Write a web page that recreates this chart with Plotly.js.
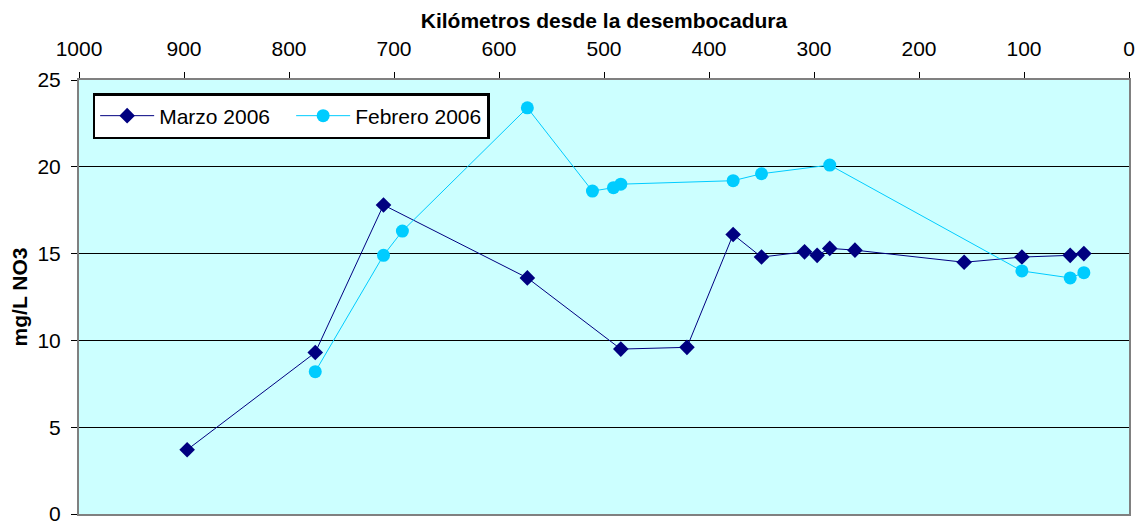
<!DOCTYPE html>
<html>
<head>
<meta charset="utf-8">
<script src="https://cdn.plot.ly/plotly-3.0.1.min.js"></script>
<style>html,body{margin:0;padding:0;background:#fff;}#chart{width:1145px;height:525px;}</style>
</head>
<body>
<div id="chart"></div>
<script>
// Marzo 2006
const marzoKm = [897, 775, 710, 573, 484, 421, 377, 350, 309, 297, 285, 261, 157, 102, 56, 43];
const marzoNO3 = [3.7, 9.3, 17.8, 13.6, 9.5, 9.6, 16.1, 14.8, 15.1, 14.9, 15.3, 15.2, 14.5, 14.8, 14.9, 15.0];
// Febrero 2006
const febreroKm = [775, 710, 692, 573, 511, 491, 484, 377, 350, 285, 102, 56, 43];
const febreroNO3 = [8.2, 14.9, 16.3, 23.4, 18.6, 18.8, 19.0, 19.2, 19.6, 20.1, 14.0, 13.6, 13.9];

const seriesNames = ["Marzo 2006", "Febrero 2006"];
const xTitle = "Kilómetros desde la desembocadura";
const yTitle = "mg/L NO3";

const font = "Liberation Sans, Arial, sans-serif";

const traces = [
  {
    x: marzoKm, y: marzoNO3, name: seriesNames[0], type: "scatter", mode: "lines+markers",
    line: {color: "#000080", width: 1},
    marker: {symbol: "diamond", size: 12, color: "#000080"}
  },
  {
    x: febreroKm, y: febreroNO3, name: seriesNames[1], type: "scatter", mode: "lines+markers",
    line: {color: "#00CCFF", width: 1},
    marker: {symbol: "circle", size: 13, color: "#00CCFF"}
  }
];

const layout = {
  width: 1145, height: 525,
  margin: {l: 79, r: 16, t: 80, b: 11},
  paper_bgcolor: "#ffffff",
  plot_bgcolor: "#CCFFFF",
  font: {family: font, size: 21, color: "#000"},
  showlegend: true,
  legend: {
    orientation: "h", x: 0.013, y: 0.97, xanchor: "left", yanchor: "top",
    bgcolor: "#ffffff", bordercolor: "#000", borderwidth: 2.5,
    itemwidth: 54, entrywidth: 127, entrywidthmode: "pixels",
    font: {family: font, size: 21}
  },
  xaxis: {
    side: "top", range: [1000, 0], dtick: 100, tick0: 0,
    ticks: "outside", ticklen: 6, tickcolor: "#000",
    showgrid: false, zeroline: false,
    showline: true, linecolor: "#808080", linewidth: 2, mirror: true,
    tickfont: {family: font, size: 21},
    ticklabelstandoff: 8, ticklabeloverflow: "allow",
    title: {text: xTitle, font: {family: font, size: 21, weight: "bold"}, standoff: 2}
  },
  yaxis: {
    range: [0, 25], dtick: 5, tick0: 0,
    ticks: "outside", ticklen: 6, tickcolor: "#000",
    showgrid: true, gridcolor: "#000", gridwidth: 1, zeroline: false,
    showline: true, linecolor: "#808080", linewidth: 2, mirror: true,
    tickfont: {family: font, size: 21},
    ticklabelstandoff: 6, ticklabeloverflow: "allow",
    title: {text: yTitle, font: {family: font, size: 21, weight: "bold"}, standoff: 4}
  }
};

Plotly.newPlot("chart", traces, layout, {displayModeBar: false, staticPlot: true});
</script>
</body>
</html>
